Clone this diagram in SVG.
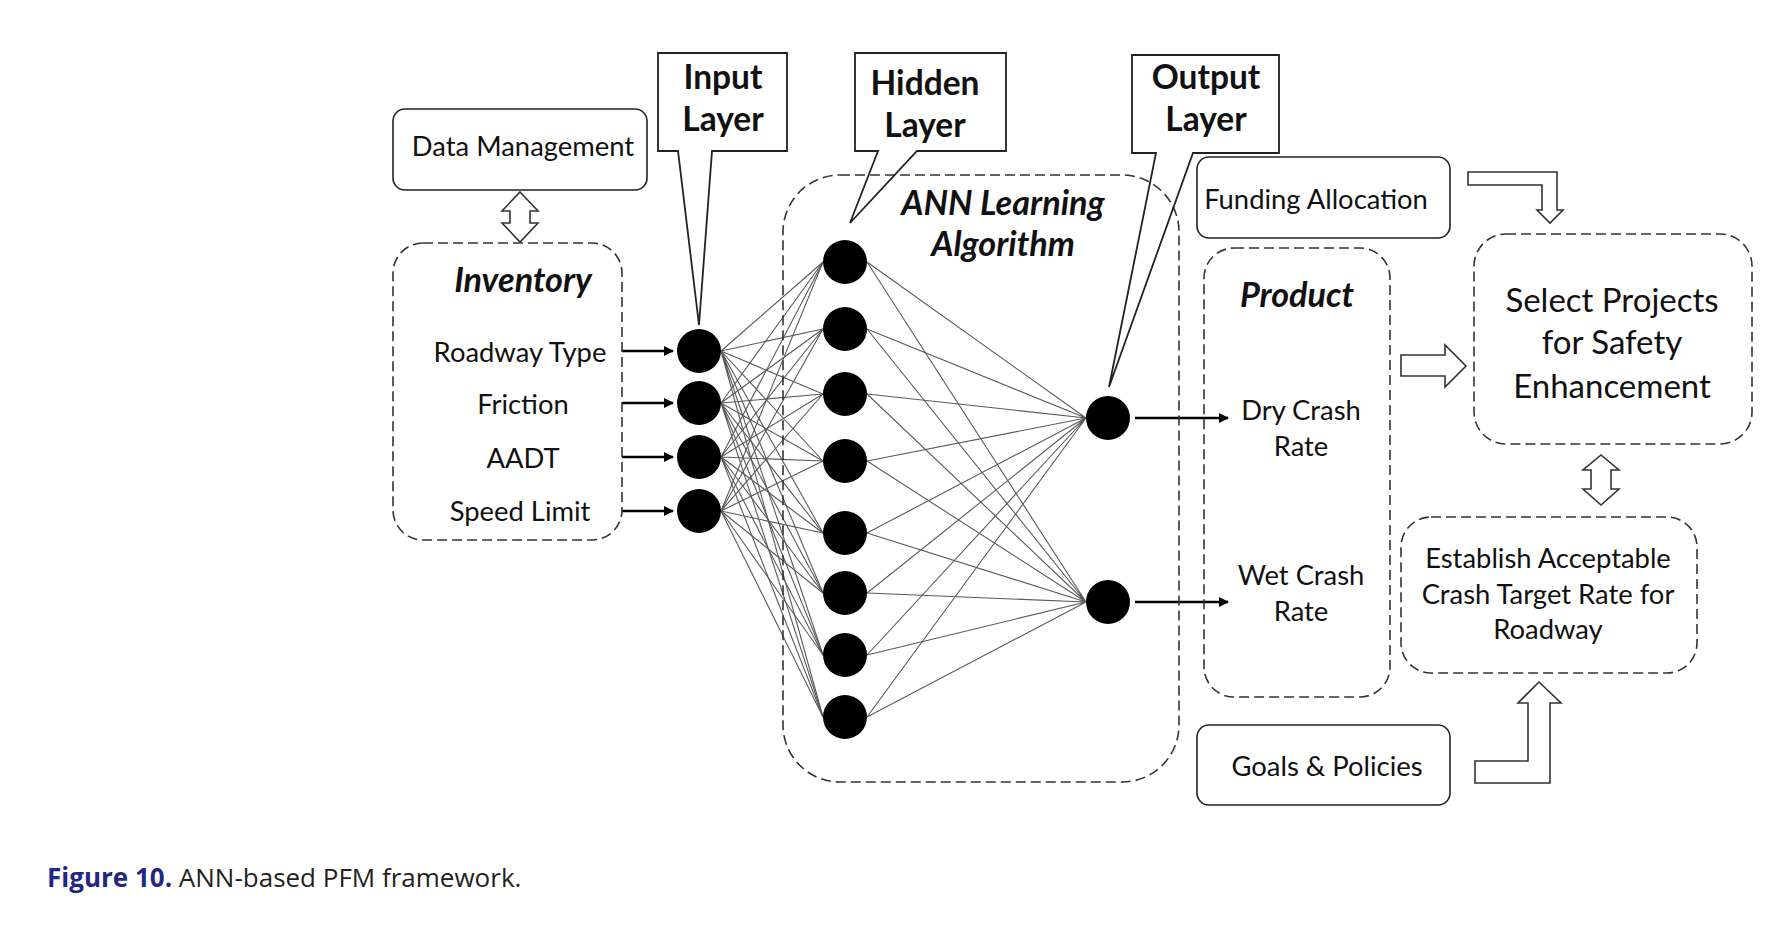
<svg xmlns="http://www.w3.org/2000/svg" width="1789" height="937" viewBox="0 0 1789 937">
<style>
text{font-family:Lato,"Open Sans","Liberation Sans",sans-serif;fill:#111;text-anchor:middle}
.t{font-size:27.4px}
.tl{font-size:33px}
.b{font-size:33.5px;font-weight:bold}
.bi{font-size:34.2px;font-weight:bold;font-style:italic}
.dash{fill:none;stroke:#333;stroke-width:1.6;stroke-dasharray:10 5}
.solid{fill:#fff;stroke:#222;stroke-width:1.6}
.call{fill:none;stroke:#222;stroke-width:1.8}
.hollow{fill:#fff;stroke:#333;stroke-width:1.6}
.w{stroke:#5a5a5a;stroke-width:1.1;fill:none}
.arr{stroke:#000;stroke-width:2.6;fill:none;marker-end:url(#ah)}
.n{fill:#000}
.cap{font-family:"Open Sans","Liberation Sans",sans-serif;font-size:26px;text-anchor:start}
</style>
<defs>
<marker id="ah" viewBox="0 0 10 10" refX="9" refY="5" markerWidth="4" markerHeight="4" orient="auto" markerUnits="strokeWidth">
<path d="M0,0 L10,5 L0,10 Z" fill="#000"/>
</marker>
</defs>
<rect width="1789" height="937" fill="#fff"/>

<g id="connectors">
<g id="input-hidden">
<path class="w" d="M721,351L823,262M721,351L823,329M721,351L823,394M721,351L823,461M721,351L823,533M721,351L823,593M721,351L823,655M721,351L823,717"/>
<path class="w" d="M721,403L823,262M721,403L823,329M721,403L823,394M721,403L823,461M721,403L823,533M721,403L823,593M721,403L823,655M721,403L823,717"/>
<path class="w" d="M721,457L823,262M721,457L823,329M721,457L823,394M721,457L823,461M721,457L823,533M721,457L823,593M721,457L823,655M721,457L823,717"/>
<path class="w" d="M721,511L823,262M721,511L823,329M721,511L823,394M721,511L823,461M721,511L823,533M721,511L823,593M721,511L823,655M721,511L823,717"/>
</g>
<g id="hidden-output">
<path class="w" d="M867,262L1086,418M867,329L1086,418M867,394L1086,418M867,461L1086,418M867,533L1086,418M867,593L1086,418M867,655L1086,418M867,717L1086,418"/>
<path class="w" d="M867,262L1086,602M867,329L1086,602M867,394L1086,602M867,461L1086,602M867,533L1086,602M867,593L1086,602M867,655L1086,602M867,717L1086,602"/>
</g>
<g id="feature-arrows">
<line class="arr" x1="622" y1="351" x2="673" y2="351"/>
<line class="arr" x1="622" y1="403" x2="673" y2="403"/>
<line class="arr" x1="622" y1="457" x2="673" y2="457"/>
<line class="arr" x1="622" y1="511" x2="673" y2="511"/>
</g>
<g id="output-arrows">
<line class="arr" x1="1135" y1="418" x2="1228" y2="418"/>
<line class="arr" x1="1135" y1="602" x2="1228" y2="602"/>
</g>
<path id="dm-inventory" class="hollow" d="M520,192 L538,211 L530,211 L530,223 L538,223 L520,242 L502,223 L510,223 L510,211 L502,211 Z"/>
<path id="select-establish" class="hollow" d="M1601,455 L1619,470 L1611,470 L1611,489 L1619,489 L1601,505 L1583,489 L1591,489 L1591,470 L1583,470 Z"/>
<path id="product-select" class="hollow" d="M1401,355 H1445 V345 L1466,366 L1445,387 V376 H1401 Z"/>
<path id="funding-select" class="hollow" d="M1468,172 H1557 V210 H1563 L1550,223 L1537,210 H1542 V185 H1468 Z"/>
<path id="goals-establish" class="hollow" d="M1475,783 H1550 V703 H1561 L1539,682 L1518,703 H1528 V761 H1475 Z"/>
</g>

<g id="ann-box">
<rect class="dash" x="783" y="175" width="396" height="607" rx="57"/>
<text class="bi" x="1003" y="215">ANN Learning</text>
<text class="bi" x="1003" y="256">Algorithm</text>
</g>

<g id="data-management">
<rect class="solid" x="393" y="109" width="254" height="81" rx="12"/>
<text class="t" x="523" y="156">Data Management</text>
</g>

<g id="inventory">
<rect class="dash" x="393" y="243" width="229" height="297" rx="30"/>
<text class="bi" x="523" y="292">Inventory</text>
<text class="t" x="520" y="362">Roadway Type</text>
<text class="t" x="523" y="414">Friction</text>
<text class="t" x="523" y="468">AADT</text>
<text class="t" x="520" y="521">Speed Limit</text>
</g>

<g id="input-layer">
<circle class="n" cx="699" cy="351" r="22"/>
<circle class="n" cx="699" cy="403" r="22"/>
<circle class="n" cx="699" cy="457" r="22"/>
<circle class="n" cx="699" cy="511" r="22"/>
</g>
<g id="hidden-layer">
<circle class="n" cx="845" cy="262" r="22"/>
<circle class="n" cx="845" cy="329" r="22"/>
<circle class="n" cx="845" cy="394" r="22"/>
<circle class="n" cx="845" cy="461" r="22"/>
<circle class="n" cx="845" cy="533" r="22"/>
<circle class="n" cx="845" cy="593" r="22"/>
<circle class="n" cx="845" cy="655" r="22"/>
<circle class="n" cx="845" cy="717" r="22"/>
</g>
<g id="output-layer">
<circle class="n" cx="1108" cy="418" r="22"/>
<circle class="n" cx="1108" cy="602" r="22"/>
</g>

<g id="callout-input">
<path class="call" d="M658,53 H787 V151 H712 L699,325 L678,151 H658 Z"/>
<text class="b" x="723" y="89">Input</text>
<text class="b" x="723" y="131">Layer</text>
</g>
<g id="callout-hidden">
<path class="call" d="M855,53 H1006 V151 H917 L850,223 L878,151 H855 Z"/>
<text class="b" x="925" y="95">Hidden</text>
<text class="b" x="925" y="137">Layer</text>
</g>
<g id="callout-output">
<path class="call" d="M1132,55 H1279 V153 H1193 L1109,387 L1156,153 H1132 Z"/>
<text class="b" x="1206" y="89">Output</text>
<text class="b" x="1206" y="131">Layer</text>
</g>

<g id="funding">
<rect class="solid" x="1197" y="157" width="253" height="81" rx="12"/>
<text class="t" x="1316" y="209">Funding Allocation</text>
</g>

<g id="product">
<rect class="dash" x="1204" y="248" width="186" height="449" rx="30"/>
<text class="bi" x="1297" y="307">Product</text>
<text class="t" x="1301" y="420">Dry Crash</text>
<text class="t" x="1301" y="456">Rate</text>
<text class="t" x="1301" y="585">Wet Crash</text>
<text class="t" x="1301" y="621">Rate</text>
</g>

<g id="select-projects">
<rect class="dash" x="1474" y="234" width="278" height="210" rx="32"/>
<text class="tl" x="1612" y="312">Select Projects</text>
<text class="tl" x="1612" y="354">for Safety</text>
<text class="tl" x="1612" y="398">Enhancement</text>
</g>

<g id="establish">
<rect class="dash" x="1401" y="517" width="296" height="156" rx="30"/>
<text class="t" x="1548" y="568">Establish Acceptable</text>
<text class="t" x="1548" y="604">Crash Target Rate for</text>
<text class="t" x="1548" y="639">Roadway</text>
</g>

<g id="goals">
<rect class="solid" x="1197" y="725" width="253" height="80" rx="12"/>
<text class="t" x="1327" y="776">Goals &amp; Policies</text>
</g>

<g id="caption">
<text class="cap" x="47" y="887"><tspan font-weight="bold" fill="#1f2683">Figure 10.</tspan><tspan fill="#231f20"> ANN-based PFM framework.</tspan></text>
</g>
</svg>
